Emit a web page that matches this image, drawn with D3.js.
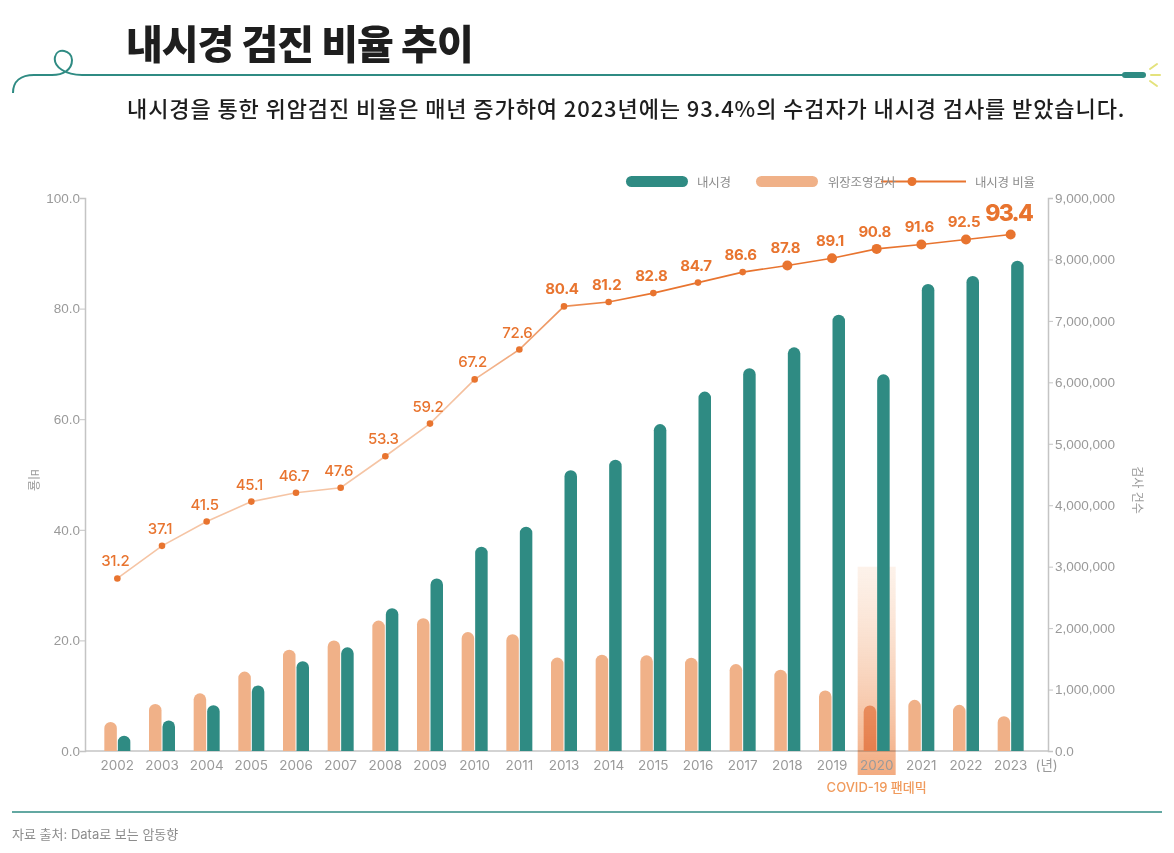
<!DOCTYPE html>
<html>
<head>
<meta charset="utf-8">
<script src="https://cdn.jsdelivr.net/npm/d3@7"></script>
<style>
  body { margin: 0; background: #fff; }
  svg { display: block; font-family: Inter, 'Noto Sans CJK KR', sans-serif; }
</style>
</head>
<body>
<div class="chart"></div>
<script>
// data
var years = ['2002', '2003', '2004', '2005', '2006', '2007', '2008', '2009', '2010', '2011', '2013',
             '2014', '2015', '2016', '2017', '2018', '2019', '2020', '2021', '2022', '2023'];
var endoscopy = [248000, 496000, 744000, 1067000, 1460000, 1687000, 2323000, 2808000, 3325000, 3650000, 4570000,
                 4740000, 5320000, 5850000, 6230000, 6570000, 7100000, 6130000, 7600000, 7730000, 7980000];
var ugiSeries = [474000, 765000, 938000, 1293000, 1649000, 1800000, 2123000, 2161000, 1935000, 1902000, 1520000,
                 1568000, 1557000, 1519000, 1415000, 1323000, 985000, 740000, 833000, 751000, 566000];
var ratio = [31.2, 37.1, 41.5, 45.1, 46.7, 47.6, 53.3, 59.2, 67.2, 72.6, 80.4,
             81.2, 82.8, 84.7, 86.6, 87.8, 89.1, 90.8, 91.6, 92.5, 93.4];
var leftTicks = [0, 20, 40, 60, 80, 100];
var rightTicks = [0, 1000000, 2000000, 3000000, 4000000, 5000000, 6000000, 7000000, 8000000, 9000000];
var legendNames = ['내시경', '위장조영검사', '내시경 비율'];
var highlightYear = '2020';

const W = 1174, H = 853;
const margin = {top: 198, right: 126, bottom: 102, left: 85};   // plot: x 85..1048, y 198..751
const teal = '#2f8b83', peach = '#f0b188', orange = '#e8742f', grey = '#9a9a9a', axisGrey = '#c4c4c4';

var svg = d3.select('.chart')
            .append('svg')
            .attr('width', W)
            .attr('height', H);

var defs = svg.append('defs');

// header
svg.append('text')
    .attr('x', 126).attr('y', 59)
    .text('내시경 검진 비율 추이')
    .style('font-family', "'Noto Sans CJK KR'")
    .style('font-weight', 900)
    .style('font-size', '40px')
    .style('letter-spacing', '-1px')
    .style('fill', '#1e1e1e');

svg.append('path')
    .attr('d', 'M13,93 C13,81 21,75 34,75 L52,75 C63,75 72,70 72,60 C72,50 57,47 55,57 C53,67 66,75 82,75 L1125,75')
    .attr('fill', 'none')
    .attr('stroke', teal)
    .attr('stroke-width', 2);
svg.append('rect')
    .attr('x', 1122).attr('y', 72).attr('width', 24).attr('height', 6).attr('rx', 3)
    .attr('fill', teal);
[[1150, 69, 1157, 64], [1151, 75, 1160, 75], [1150, 81, 1157, 86]].forEach(s => {
    svg.append('line')
        .attr('x1', s[0]).attr('y1', s[1]).attr('x2', s[2]).attr('y2', s[3])
        .attr('stroke', '#e4e27c').attr('stroke-width', 2).attr('stroke-linecap', 'round');
});

svg.append('text')
    .attr('x', 127).attr('y', 117)
    .text('내시경을 통한 위암검진 비율은 매년 증가하여 2023년에는 93.4%의 수검자가 내시경 검사를 받았습니다.')
    .style('font-family', "'Noto Sans CJK KR'")
    .style('font-weight', 500)
    .style('font-size', '22px')
    .style('letter-spacing', '0.9px')
    .style('fill', '#1e1e1e');

// scales
var x = d3.scaleBand()
          .domain(years)
          .range([95, 1033]);
var yLeft = d3.scaleLinear().domain([0, 100]).range([H - margin.bottom, margin.top]);
var yRight = d3.scaleLinear().domain([0, 9000000]).range([H - margin.bottom, margin.top]);
const barW = 12.5;
const base = yRight(0);

// axes
var leftAxis = svg.append('g')
    .attr('transform', `translate(${margin.left},0)`)
    .call(d3.axisLeft(yLeft).tickValues(leftTicks).tickFormat(d3.format('.1f')).tickSize(5).tickSizeOuter(5));
var rightAxis = svg.append('g')
    .attr('transform', `translate(${W - margin.right},0)`)
    .call(d3.axisRight(yRight).tickValues(rightTicks)
            .tickFormat(d => d === 0 ? '0.0' : d3.format(',')(d)).tickSize(5).tickSizeOuter(5));
[leftAxis, rightAxis].forEach(a => {
    a.select('.domain').attr('stroke', axisGrey).attr('stroke-width', 1.5);
    a.selectAll('.tick line').attr('stroke', axisGrey);
    a.selectAll('.tick text')
        .style('font-size', '13.5px')
        .style('fill', grey);
});
rightAxis.selectAll('.tick text').attr('x', 7);
leftAxis.selectAll('.tick text').attr('x', -5);

svg.append('line')
    .attr('x1', margin.left).attr('x2', W - margin.right)
    .attr('y1', base).attr('y2', base)
    .attr('stroke', axisGrey).attr('stroke-width', 1.5);

svg.append('text')
    .attr('transform', `translate(29,480) rotate(90)`)
    .attr('text-anchor', 'middle')
    .text('비율')
    .style('font-size', '12px')
    .style('fill', grey);
svg.append('text')
    .attr('transform', `translate(1133,490) rotate(90)`)
    .attr('text-anchor', 'middle')
    .text('검사 건수')
    .style('font-size', '12px')
    .style('fill', grey);

// rounded top bar
const barPath = function(x0, w, yTop) {
    var r = w / 2;
    var top = Math.min(yTop, base - r);
    return `M${x0},${base} L${x0},${top + r} A${r},${r} 0 0 1 ${x0 + w},${top + r} L${x0 + w},${base} Z`;
};

// peach bars (left of centre)
svg.append('g').selectAll('path')
    .data(ugiSeries)
    .join('path')
    .attr('d', (d, i) => barPath(x(years[i]) + x.bandwidth() / 2 - barW - 0.5, barW, yRight(d)))
    .attr('fill', peach);

// COVID highlight
var grad = defs.append('linearGradient')
    .attr('id', 'covidGrad')
    .attr('x1', 0).attr('y1', 0).attr('x2', 0).attr('y2', 1);
grad.append('stop').attr('offset', '0%').attr('stop-color', '#fbe6d6').attr('stop-opacity', 0.5);
grad.append('stop').attr('offset', '100%').attr('stop-color', '#f2a77a').attr('stop-opacity', 0.95);
var hx = x(highlightYear) + x.bandwidth() / 2;
svg.append('rect')
    .attr('x', hx - 19).attr('width', 38)
    .attr('y', yRight(3000000)).attr('height', base + 24 - yRight(3000000))
    .attr('fill', 'url(#covidGrad)')
    .style('mix-blend-mode', 'multiply');

// teal bars (right of centre)
svg.append('g').selectAll('path')
    .data(endoscopy)
    .join('path')
    .attr('d', (d, i) => barPath(x(years[i]) + x.bandwidth() / 2 + 0.5, barW, yRight(d)))
    .attr('fill', teal);

// year labels
svg.append('g').selectAll('text')
    .data(years)
    .join('text')
    .attr('x', d => x(d) + x.bandwidth() / 2)
    .attr('y', base + 19)
    .attr('text-anchor', 'middle')
    .text(d => d)
    .style('font-size', '13.5px')
    .style('fill', grey);
svg.append('text')
    .attr('x', x('2023') + x.bandwidth() / 2 + 36)
    .attr('y', base + 19)
    .attr('text-anchor', 'middle')
    .text('(년)')
    .style('font-size', '13.5px')
    .style('fill', grey);

svg.append('text')
    .attr('x', hx).attr('y', base + 41)
    .attr('text-anchor', 'middle')
    .text('COVID-19 팬데믹')
    .style('font-size', '13px')
    .style('font-weight', 500)
    .style('fill', '#f09a5c');

// ratio line
var lineGrad = defs.append('linearGradient')
    .attr('id', 'lineGrad')
    .attr('gradientUnits', 'userSpaceOnUse')
    .attr('x1', x('2010')).attr('x2', x('2015')).attr('y1', 0).attr('y2', 0);
lineGrad.append('stop').attr('offset', '0%').attr('stop-color', '#f5c4a4');
lineGrad.append('stop').attr('offset', '100%').attr('stop-color', orange);

var line = d3.line()
    .x((d, i) => x(years[i]) + x.bandwidth() / 2)
    .y(d => yLeft(d));

svg.append('path')
    .datum(ratio)
    .attr('d', line)
    .attr('fill', 'none')
    .attr('stroke', 'url(#lineGrad)')
    .attr('stroke-width', 1.6);

svg.append('g').selectAll('circle')
    .data(ratio)
    .join('circle')
    .attr('cx', (d, i) => x(years[i]) + x.bandwidth() / 2)
    .attr('cy', d => yLeft(d))
    .attr('r', (d, i) => +years[i] >= 2018 ? 5 : 3.3)
    .attr('fill', orange);

svg.append('g').selectAll('text')
    .data(ratio)
    .join('text')
    .attr('x', (d, i) => x(years[i]) + x.bandwidth() / 2 - 2)
    .attr('y', (d, i) => yLeft(d) - (i === ratio.length - 1 ? 13 : 12))
    .attr('text-anchor', 'middle')
    .text(d => d.toFixed(1))
    .style('font-size', (d, i) => i === ratio.length - 1 ? '23px' : '15px')
    .style('font-weight', (d, i) => i === ratio.length - 1 ? 800 : (+years[i] >= 2013 ? 700 : 500))
    .style('letter-spacing', (d, i) => i === ratio.length - 1 ? '-1.8px' : '-0.3px')
    .style('fill', orange);

// legend
var legend = svg.append('g').attr('class', 'legend');
legend.append('rect')
    .attr('x', 626).attr('y', 176).attr('width', 62).attr('height', 11).attr('rx', 5.5)
    .attr('fill', teal);
legend.append('rect')
    .attr('x', 756).attr('y', 176).attr('width', 62).attr('height', 11).attr('rx', 5.5)
    .attr('fill', peach);
legend.append('line')
    .attr('x1', 881).attr('x2', 966).attr('y1', 181.5).attr('y2', 181.5)
    .attr('stroke', orange).attr('stroke-width', 1.8);
legend.append('circle')
    .attr('cx', 912).attr('cy', 181.5).attr('r', 4.5)
    .attr('fill', orange);
legend.selectAll('.legText')
    .data(legendNames)
    .join('text')
    .attr('class', 'legText')
    .attr('x', (d, i) => [697, 828, 975][i])
    .attr('y', 186.5)
    .text(d => d)
    .style('font-size', '12.5px')
    .style('letter-spacing', '-0.2px')
    .style('fill', '#8c8c8c');

// footer
svg.append('line')
    .attr('x1', 12).attr('x2', 1162).attr('y1', 812).attr('y2', 812)
    .attr('stroke', teal).attr('stroke-width', 1.5);
svg.append('text')
    .attr('x', 12).attr('y', 839)
    .text('자료 출처: Data로 보는 암동향')
    .style('font-size', '13px')
    .style('fill', '#8c8c8c');
</script>
</body>
</html>
